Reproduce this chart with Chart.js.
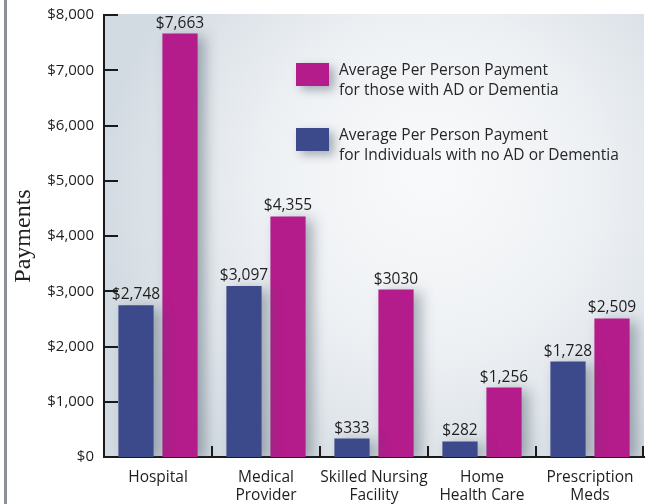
<!DOCTYPE html>
<html>
<head>
<meta charset="utf-8">
<script src="https://cdn.jsdelivr.net/npm/chart.js@4.4.1/dist/chart.umd.min.js"></script>
<style>
  html, body { margin: 0; padding: 0; background: #fff; }
  #wrap { width: 650px; height: 504px; }
</style>
</head>
<body>
<div id="wrap"><canvas id="barChart" width="650" height="504"></canvas></div>
<script>
/* data */
const categories = [["Hospital"], ["Medical", "Provider"], ["Skilled Nursing", "Facility"], ["Home", "Health Care"], ["Prescription", "Meds"]];
const noDementia = [2748, 3097, 333, 282, 1728];
const withDementia = [7663, 4355, 3030, 1256, 2509];
const noDementiaLabels = ["$2,748", "$3,097", "$333", "$282", "$1,728"];
const withDementiaLabels = ["$7,663", "$4,355", "$3030", "$1,256", "$2,509"];
const yTicks = [0, 1000, 2000, 3000, 4000, 5000, 6000, 7000, 8000];

const legendItems = [
    { color: "#b31c8a", lines: ["Average Per Person Payment", "for those with AD or Dementia"] },
    { color: "#3c4a8b", lines: ["Average Per Person Payment", "for Individuals with no AD or Dementia"] }
];

const FONT = "'Open Sans', 'Noto Sans', sans-serif";

/* background, shadows, ticks, value labels, legend */
const decor = {
    id: "decor",
    beforeDraw(chart) {
        const ctx = chart.ctx;
        const a = chart.chartArea;
        ctx.save();
        ctx.fillStyle = "#fff";
        ctx.fillRect(0, 0, chart.width, chart.height);
        // grey rule on the left edge
        ctx.fillStyle = "#8d9197";
        ctx.fillRect(4, 0, 3, chart.height);
        // plot background
        const g = ctx.createRadialGradient(430, 170, 20, 430, 200, 330);
        g.addColorStop(0, "#f8f9fa");
        g.addColorStop(0.45, "#eef1f4");
        g.addColorStop(1, "#d3dbe2");
        ctx.fillStyle = g;
        ctx.fillRect(a.left, a.top - 1, a.right - a.left, a.bottom - a.top + 1);
        ctx.restore();
    },
    beforeDatasetDraw(chart) {
        const ctx = chart.ctx;
        ctx.save();
        ctx.shadowColor = "rgba(70, 85, 100, 0.45)";
        ctx.shadowBlur = 14;
        ctx.shadowOffsetX = 7;
        ctx.shadowOffsetY = 3;
    },
    afterDatasetDraw(chart) {
        chart.ctx.restore();
    },
    afterDatasetsDraw(chart) {
        const ctx = chart.ctx;
        const a = chart.chartArea;
        const x = chart.scales.x;
        const y = chart.scales.y;
        ctx.save();

        // inward ticks on the value axis
        ctx.strokeStyle = "#1a1a1a";
        ctx.lineWidth = 2;
        yTicks.forEach(v => {
            const py = Math.round(y.getPixelForValue(v));
            ctx.beginPath();
            ctx.moveTo(a.left, py);
            ctx.lineTo(a.left + 14, py);
            ctx.stroke();
        });

        // category separators on the bottom axis
        for (let i = 0; i < categories.length; i++) {
            const px = i < categories.length - 1
                ? (x.getPixelForValue(i) + x.getPixelForValue(i + 1)) / 2
                : a.right - 1;
            ctx.beginPath();
            ctx.moveTo(Math.round(px), a.bottom);
            ctx.lineTo(Math.round(px), a.bottom - 11);
            ctx.stroke();
        }

        // value labels
        ctx.fillStyle = "#1e1e1e";
        ctx.font = "15.5px " + FONT;
        ctx.textAlign = "center";
        ctx.textBaseline = "alphabetic";
        const texts = [noDementiaLabels, withDementiaLabels];
        chart.data.datasets.forEach((ds, di) => {
            chart.getDatasetMeta(di).data.forEach((bar, i) => {
                ctx.fillText(texts[di][i], bar.x, bar.y - 6);
            });
        });

        // legend
        ctx.textAlign = "left";
        ctx.textBaseline = "middle";
        ctx.font = "15.5px " + FONT;
        legendItems.forEach((item, k) => {
            const top = 63 + k * 65;
            ctx.save();
            ctx.shadowColor = "rgba(70, 85, 100, 0.45)";
            ctx.shadowBlur = 10;
            ctx.shadowOffsetX = 5;
            ctx.shadowOffsetY = 4;
            ctx.fillStyle = item.color;
            ctx.fillRect(296, top, 33, 23);
            ctx.restore();
            ctx.fillStyle = "#262626";
            item.lines.forEach((t, j) => ctx.fillText(t, 339, top + 8 + j * 20));
        });
        ctx.restore();
    }
};

const CHART = document.getElementById("barChart");
let barChart = new Chart(CHART, {
    type: "bar",
    data: {
        labels: categories,
        datasets: [
            {
                label: "Average Per Person Payment for Individuals with no AD or Dementia",
                backgroundColor: "#3c4a8b",
                data: noDementia
            },
            {
                label: "Average Per Person Payment for those with AD or Dementia",
                backgroundColor: "#b31c8a",
                data: withDementia
            }
        ]
    },
    options: {
        responsive: false,
        animation: false,
        layout: { padding: { top: 15, right: 6, left: 0, bottom: 0 } },
        categoryPercentage: 0.815,
        barPercentage: 0.8,
        plugins: {
            legend: { display: false },
            tooltip: { enabled: false }
        },
        scales: {
            x: {
                grid: { display: false, drawTicks: false },
                border: { display: true, color: "#1a1a1a", width: 2 },
                ticks: {
                    color: "#1e1e1e",
                    font: { family: FONT, size: 15.5, lineHeight: 1.2 },
                    padding: 11,
                    maxRotation: 0,
                    autoSkip: false
                },
                afterFit(scale) { scale.height = 47; }
            },
            y: {
                min: 0,
                max: 8000,
                grid: { display: false, drawTicks: false },
                border: { display: true, color: "#1a1a1a", width: 2 },
                ticks: {
                    stepSize: 1000,
                    color: "#1e1e1e",
                    padding: 10,
                    font: { family: FONT, size: 15 },
                    callback: v => "$" + v.toLocaleString("en-US")
                },
                title: {
                    display: true,
                    text: "Payments",
                    color: "#222",
                    font: { family: "'Liberation Serif', serif", size: 24 },
                    padding: { top: 9, bottom: 0 }
                },
                afterFit(scale) {
                    scale.width = 104;
                    scale.paddingTop = 4;
                    scale.paddingBottom = 4;
                }
            }
        }
    },
    plugins: [decor]
});
</script>
</body>
</html>
